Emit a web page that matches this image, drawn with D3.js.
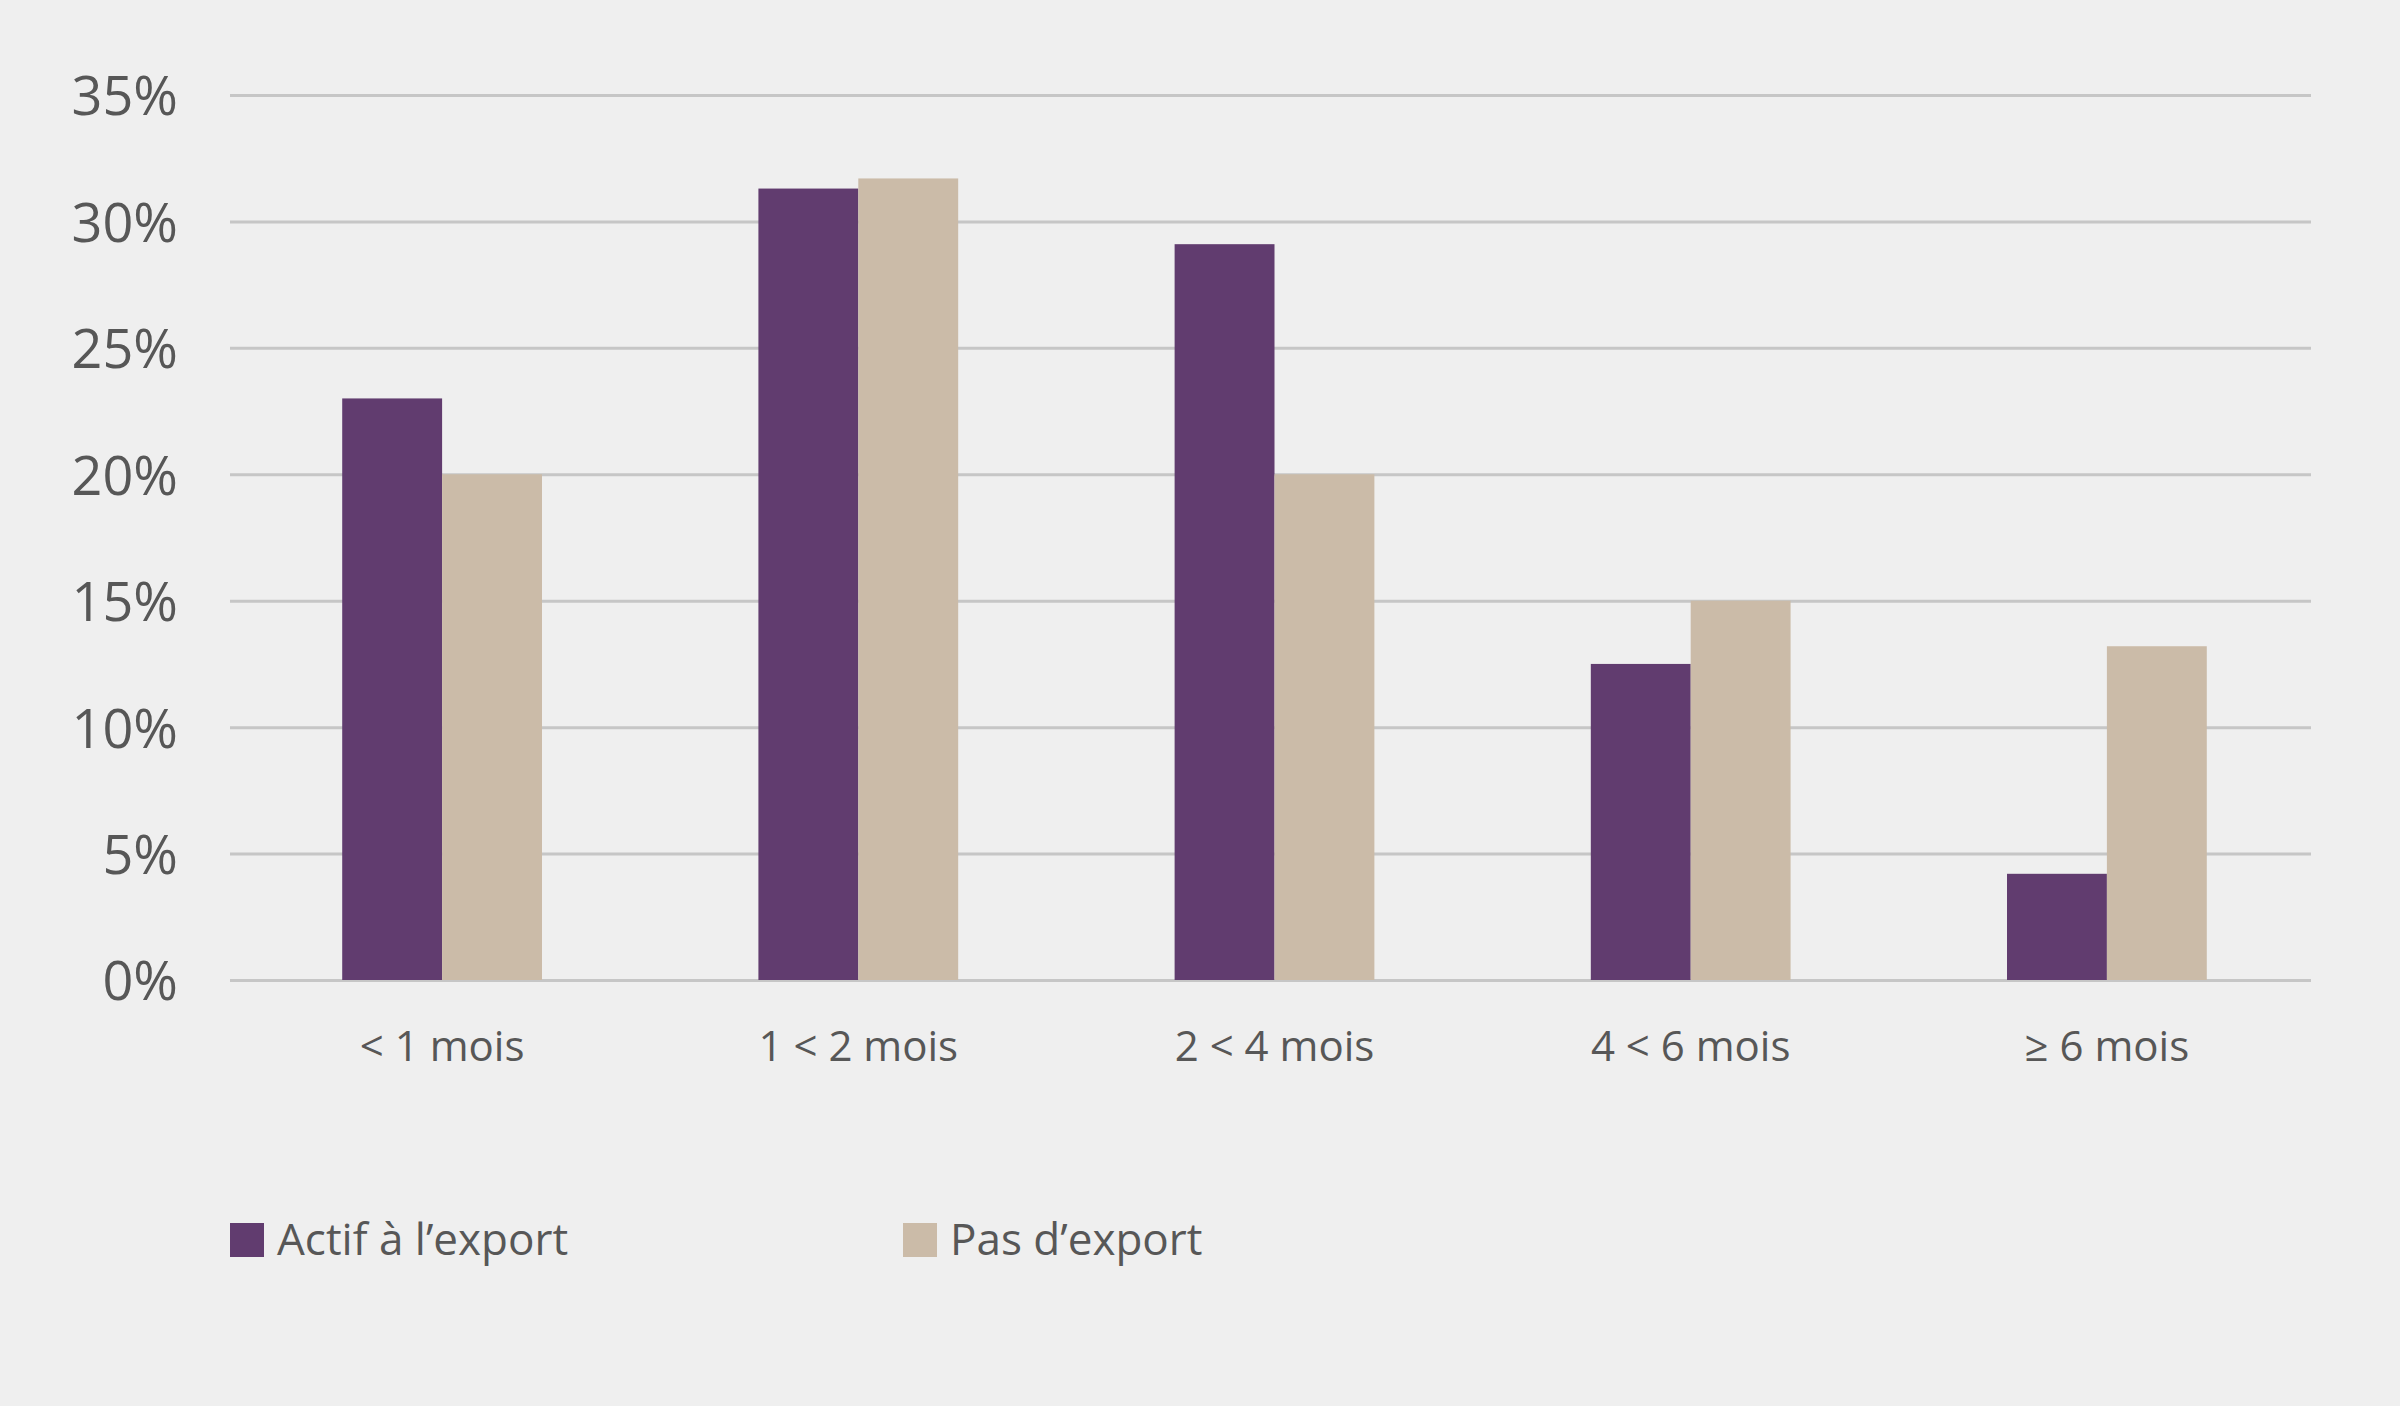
<!DOCTYPE html>
<html>
<head>
<meta charset="utf-8">
<script src="https://cdn.jsdelivr.net/npm/d3@7"></script>
<style>
  html, body { margin: 0; padding: 0; background: #efefef; }
  svg { display: block; }
  text { font-family: "Open Sans", "DejaVu Sans", sans-serif; fill: #575757; }
</style>
</head>
<body>
<svg id="chart" width="2400" height="1406"></svg>
<script>
const categories = ["< 1 mois", "1 < 2 mois", "2 < 4 mois", "4 < 6 mois", "\u2265 6 mois"];
const seriesNames = ["Actif \u00e0 l\u2019export", "Pas d\u2019export"];
const actifExport = [23.0, 31.3, 29.1, 12.5, 4.2];
const pasExport = [20.0, 31.7, 20.0, 15.0, 13.2];
const yTicks = [0, 5, 10, 15, 20, 25, 30, 35];

(function () {
const colors = ["#613c6f", "#cbbba8"];
const seriesValues = [actifExport, pasExport];

const svg = d3.select("#chart");
svg.append("rect").attr("width", 2400).attr("height", 1406).attr("fill", "#efefef");

const mLeft = 230, mRight = 2311, mTop = 95, mBottom = 980;

const x = d3.scaleBand().domain(categories).range([mLeft + 4, mRight + 4])
  .paddingInner(0.52).paddingOuter(0.26);
const xs = d3.scaleBand().domain(d3.range(seriesValues.length)).range([0, x.bandwidth()]);
const y = d3.scaleLinear().domain([0, 35]).range([mBottom, mTop]);

const yAxis = svg.append("g").attr("transform", `translate(${mLeft},0)`)
  .call(d3.axisLeft(y).tickValues(yTicks).tickSize(-(mRight - mLeft)).tickPadding(52)
    .tickFormat(d => d + "%"));
yAxis.select(".domain").remove();
yAxis.selectAll(".tick line").attr("stroke", "#c6c6c6").attr("stroke-width", 3);
yAxis.selectAll(".tick text").attr("font-size", 54).attr("dy", "0.37em")
  .style("font-family", "'Open Sans', sans-serif").attr("fill", "#575757");

const groups = svg.append("g").selectAll("g").data(categories).join("g")
  .attr("transform", d => `translate(${x(d)},0)`);
groups.selectAll("rect")
  .data((d, i) => seriesValues.map((s, k) => ({ k, v: s[i] })))
  .join("rect")
  .attr("x", d => xs(d.k))
  .attr("width", xs.bandwidth())
  .attr("y", d => y(d.v))
  .attr("height", d => y(0) - y(d.v))
  .attr("fill", d => colors[d.k]);

const xAxis = svg.append("g").attr("transform", `translate(0,${mBottom})`)
  .call(d3.axisBottom(x).tickSize(0).tickPadding(51));
xAxis.select(".domain").remove();
xAxis.selectAll(".tick text").attr("font-size", 42)
  .style("font-family", "'Open Sans', sans-serif").attr("fill", "#575757");

const legendX = [230, 903];
const legend = svg.append("g").selectAll("g").data(seriesNames).join("g")
  .attr("transform", (d, i) => `translate(${legendX[i]},1223)`);
legend.append("rect").attr("width", 34).attr("height", 34).attr("fill", (d, i) => colors[i]);
legend.append("text").attr("x", 47).attr("y", 32).attr("font-size", 44).text(d => d);
})();
</script>
</body>
</html>
